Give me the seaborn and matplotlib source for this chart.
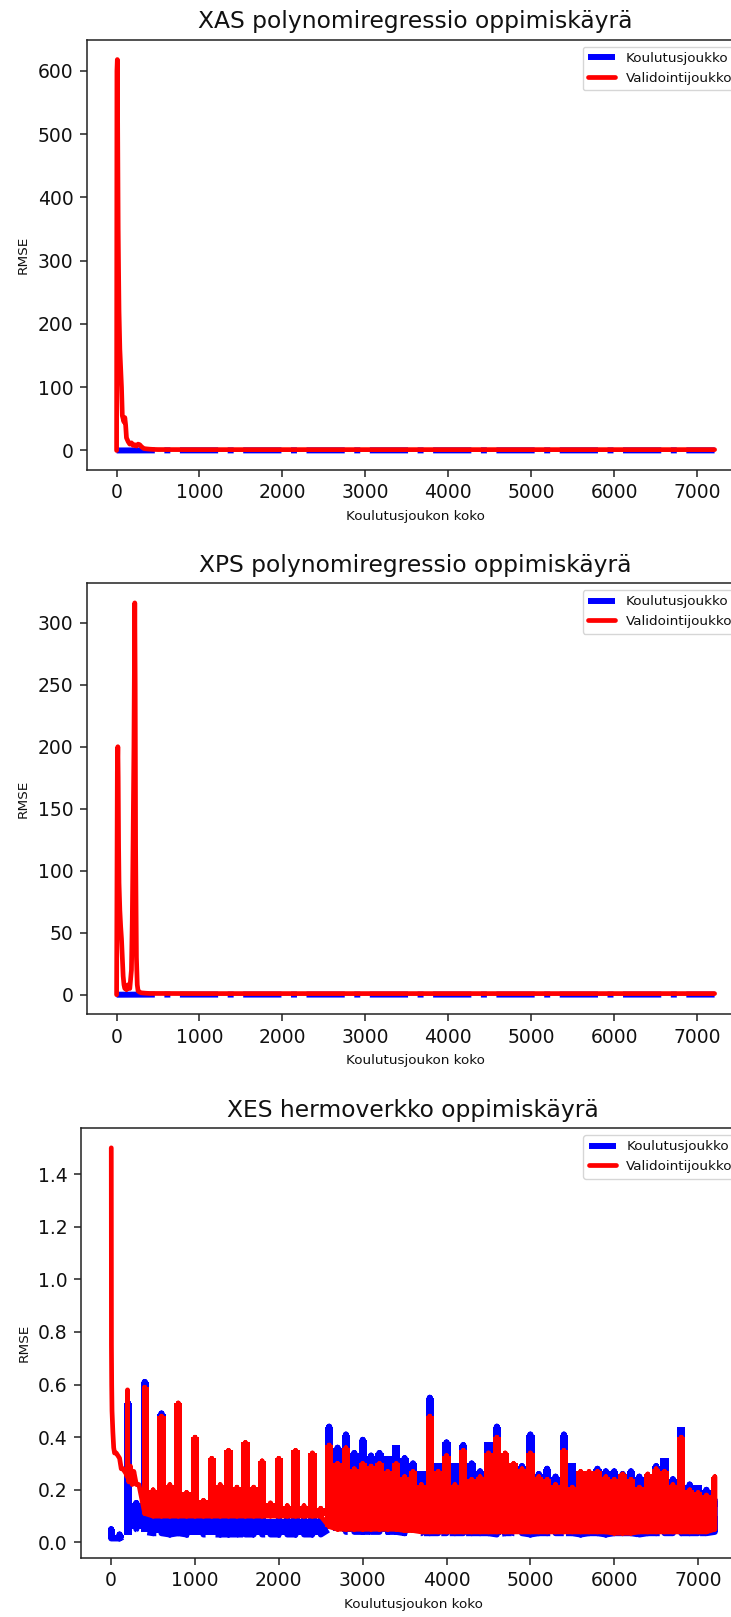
import numpy as np
import pandas as pd
import matplotlib
matplotlib.use("Agg")
import matplotlib.pyplot as plt
import seaborn as sns

# ---------------------------------------------------------------- texts
TITLES = [
    "XAS polynomiregressio oppimiskäyrä",
    "XPS polynomiregressio oppimiskäyrä",
    "XES hermoverkko oppimiskäyrä",
]
X_LABEL = "Koulutusjoukon koko"
Y_LABEL = "RMSE"
SERIES = ["Koulutusjoukko", "Validointijoukko"]

# ---------------------------------------------------------------- XAS
xas_train_x = [1, 500, 1000, 2000, 3000, 4000, 5000, 6000, 7000, 7210]
xas_train_y = [0.0, 0.1, 0.1, 0.1, 0.1, 0.1, 0.1, 0.1, 0.1, 0.1]
xas_val_x = [1, 5, 10, 15, 20, 25, 30, 40, 50, 60,
             70, 80, 90, 100, 110, 120, 140, 160, 180, 200,
             220, 240, 260, 280, 300, 330, 360, 400, 450, 500,
             1000, 2000, 3000, 4000, 5000, 6000, 7000, 7210]
xas_val_y = [0, 600, 618, 480, 350, 280, 220, 160, 130, 100,
             55, 50, 45, 52, 40, 20, 14, 10, 12, 8,
             9, 7, 10, 9, 6, 3, 2.5, 2, 1.6, 1.4,
             1.3, 1.3, 1.3, 1.3, 1.3, 1.3, 1.3, 1.3]

# ---------------------------------------------------------------- XPS
xps_train_x = [1, 500, 1000, 2000, 3000, 4000, 5000, 6000, 7000, 7210]
xps_train_y = [0.0, 0.1, 0.1, 0.1, 0.1, 0.1, 0.1, 0.1, 0.1, 0.1]
xps_val_x = [1, 10, 16, 20, 25, 30, 40, 50, 60, 70,
             80, 90, 100, 110, 120, 140, 160, 180, 190, 200,
             210, 220, 225, 230, 240, 250, 260, 280, 300, 350,
             400, 500, 1000, 2000, 3000, 4000, 5000, 6000, 7000, 7210]
xps_val_y = [0, 180, 200, 175, 120, 90, 68, 55, 45, 30,
             15, 8, 5, 6, 4, 8, 5, 20, 60, 125,
             200, 316, 250, 120, 30, 8, 3, 2, 1.5, 1.2,
             1.0, 1.0, 0.9, 0.9, 0.9, 0.9, 0.9, 0.9, 0.9, 0.9]

# ---------------------------------------------------------------- XES
# per 100 samples: lowest and highest RMSE within each block
xes_train_x = list(range(0, 7201, 100))
xes_train_lo = [0.015, 0.015, 0.03, 0.05, 0.04, 0.035, 0.035, 0.03, 0.035, 0.03,
                0.03, 0.03, 0.03, 0.03, 0.03, 0.03, 0.03, 0.03, 0.03, 0.03,
                0.03, 0.03, 0.03, 0.03, 0.03, 0.03,
                0.05, 0.045, 0.04, 0.04, 0.04, 0.04, 0.04, 0.04, 0.04, 0.035,
                0.04, 0.035, 0.035, 0.035, 0.035, 0.035, 0.035, 0.035, 0.035, 0.035,
                0.03, 0.035, 0.035, 0.035, 0.03, 0.035, 0.035, 0.035, 0.035, 0.035,
                0.03, 0.035, 0.035, 0.03, 0.035, 0.035, 0.035, 0.03, 0.035, 0.035,
                0.035, 0.035, 0.035, 0.035, 0.035, 0.035, 0.04]
xes_train_hi = [0.05, 0.03, 0.53, 0.15, 0.61, 0.12, 0.49, 0.11, 0.47, 0.11,
                0.38, 0.10, 0.27, 0.10, 0.33, 0.10, 0.30, 0.10, 0.10, 0.09,
                0.09, 0.09, 0.30, 0.09, 0.30, 0.09,
                0.44, 0.36, 0.41, 0.34, 0.39, 0.33, 0.34, 0.33, 0.37, 0.32,
                0.30, 0.27, 0.55, 0.30, 0.38, 0.30, 0.37, 0.30, 0.27, 0.38,
                0.44, 0.33, 0.30, 0.29, 0.41, 0.26, 0.28, 0.25, 0.41, 0.30,
                0.26, 0.25, 0.28, 0.27, 0.27, 0.26, 0.27, 0.25, 0.24, 0.29,
                0.32, 0.24, 0.44, 0.22, 0.22, 0.20, 0.18]

xes_val_head_x = [1, 3, 6, 10, 15, 20, 30, 40, 60, 80,
                  100, 110, 120, 140, 160, 180, 190, 195, 200, 210,
                  230, 250, 270, 300, 330]
xes_val_head_y = [1.5, 0.75, 0.6, 0.5, 0.46, 0.42, 0.36, 0.34, 0.34, 0.33,
                  0.32, 0.30, 0.28, 0.28, 0.27, 0.26, 0.25, 0.58, 0.25, 0.23,
                  0.29, 0.22, 0.27, 0.22, 0.22]
xes_val_x = list(range(400, 7201, 100))
xes_val_lo = [0.11, 0.10, 0.10, 0.10, 0.10, 0.10, 0.10, 0.10, 0.10, 0.10,
              0.10, 0.10, 0.10, 0.10, 0.10, 0.10, 0.10, 0.10, 0.10, 0.10,
              0.10, 0.10,
              0.06, 0.05, 0.05, 0.05, 0.05, 0.05, 0.05, 0.05, 0.05, 0.045,
              0.045, 0.04, 0.04, 0.04, 0.04, 0.04, 0.04, 0.04, 0.04, 0.04,
              0.04, 0.04, 0.04, 0.04, 0.04, 0.04, 0.04, 0.04, 0.04, 0.04,
              0.04, 0.04, 0.04, 0.04, 0.035, 0.035, 0.035, 0.04, 0.04, 0.04,
              0.04, 0.04, 0.04, 0.04, 0.04, 0.04, 0.05]
xes_val_hi = [0.59, 0.20, 0.48, 0.22, 0.53, 0.19, 0.40, 0.16, 0.32, 0.22,
              0.35, 0.21, 0.38, 0.21, 0.31, 0.15, 0.32, 0.14, 0.35, 0.14,
              0.34, 0.13,
              0.37, 0.30, 0.36, 0.28, 0.30, 0.29, 0.30, 0.27, 0.30, 0.25,
              0.27, 0.22, 0.48, 0.27, 0.33, 0.22, 0.35, 0.24, 0.25, 0.34,
              0.40, 0.34, 0.30, 0.28, 0.34, 0.25, 0.24, 0.22, 0.35, 0.21,
              0.27, 0.27, 0.27, 0.25, 0.24, 0.26, 0.24, 0.21, 0.26, 0.28,
              0.27, 0.22, 0.40, 0.20, 0.19, 0.18, 0.25]

Y_TICKS = [list(range(0, 601, 100)), list(range(0, 301, 50)),
           [0.0, 0.2, 0.4, 0.6, 0.8, 1.0, 1.2, 1.4]]
X_TICKS = list(range(0, 7001, 1000))

# ---------------------------------------------------------------- style
sns.set_style("ticks")
plt.rcParams.update({
    "font.family": ["DejaVu Sans"],
    "text.color": "#111111",
    "axes.edgecolor": "#222222",
    "axes.labelcolor": "#111111",
    "axes.linewidth": 1.1,
    "xtick.color": "#222222",
    "ytick.color": "#222222",
    "xtick.labelcolor": "#111111",
    "ytick.labelcolor": "#111111",
    "xtick.major.size": 4.8,
    "ytick.major.size": 4.8,
    "xtick.major.width": 1.1,
    "ytick.major.width": 1.1,
    "xtick.major.pad": 4.8,
    "ytick.major.pad": 4.8,
    "xtick.direction": "out",
    "ytick.direction": "out",
    "axes.grid": False,
})

TICK_FS = 13.5
TITLE_FS = 16.8
LABEL_FS = 9.7
LEGEND_FS = 9.7
TRAIN_COLOR = "blue"
VAL_COLOR = "red"
TRAIN_LW = 4.3
VAL_LW = 3.4

W, H = 731, 1617
fig = plt.figure(figsize=(W / 100, H / 100), dpi=100)
fig.patch.set_facecolor("white")

# axes boxes in pixels: left, top, right, bottom
boxes = [(86.7, 40.0, 744.5, 470.0),
         (86.7, 583.3, 744.5, 1014.3),
         (81.0, 1128.3, 745.0, 1558.0)]
axes = []
for (l, t, r, b) in boxes:
    axes.append(fig.add_axes([l / W, 1 - b / H, (r - l) / W, (b - t) / H]))


def draw_line(ax, x, y, color, lw, ls, label, z):
    df = pd.DataFrame({"x": x, "y": y})
    sns.lineplot(data=df, x="x", y="y", ax=ax, color=color, lw=lw,
                 linestyle=ls, estimator=None, sort=False, label=label,
                 zorder=z, legend=False)


def bars_path(x, lo, hi):
    # vertical stroke from the block minimum to its maximum and back
    xs, ys = [], []
    for xi, a, b in zip(x, lo, hi):
        xs += [xi, xi, xi]
        ys += [a, b, a]
    return xs, ys


# XAS and XPS
for ax, (tx, ty, vx, vy) in zip(axes[:2], [
        (xas_train_x, xas_train_y, xas_val_x, xas_val_y),
        (xps_train_x, xps_train_y, xps_val_x, xps_val_y)]):
    draw_line(ax, tx, ty, TRAIN_COLOR, TRAIN_LW, "-.", SERIES[0], 2.0)
    draw_line(ax, vx, vy, VAL_COLOR, VAL_LW, "-", SERIES[1], 2.5)

# XES
ax3 = axes[2]
ax3.fill_between(xes_train_x, xes_train_lo, xes_train_hi, step="mid",
                 color=TRAIN_COLOR, lw=0, zorder=1.0)
bx, by = bars_path(xes_train_x, xes_train_lo, xes_train_hi)
draw_line(ax3, bx, by, TRAIN_COLOR, TRAIN_LW, "-.", SERIES[0], 1.5)
ax3.fill_between(xes_val_x, xes_val_lo, xes_val_hi, step="mid",
                 color=VAL_COLOR, lw=0, zorder=2.0)
rx, ry = bars_path(xes_val_x, xes_val_lo, xes_val_hi)
draw_line(ax3, xes_val_head_x + rx, xes_val_head_y + ry,
          VAL_COLOR, VAL_LW, "-", SERIES[1], 2.5)

for ax, title, yt in zip(axes, TITLES, Y_TICKS):
    ax.set_facecolor("white")
    ax.set_title(title, fontsize=TITLE_FS, pad=8.3)
    ax.set_xlabel(X_LABEL, fontsize=LABEL_FS, labelpad=5.5)
    ax.set_ylabel(Y_LABEL, fontsize=LABEL_FS, labelpad=5.5)
    ax.set_xticks(X_TICKS)
    ax.set_yticks(yt)
    ax.tick_params(labelsize=TICK_FS)
    for s in ax.spines.values():
        s.set_visible(True)
        s.set_linewidth(1.1)
    ax.legend(loc="upper right", fontsize=LEGEND_FS, frameon=True,
              fancybox=True, framealpha=0.8, edgecolor="0.8",
              borderaxespad=0.5, handlelength=2.0)

fig.savefig("out.png", dpi=100, facecolor="white")
